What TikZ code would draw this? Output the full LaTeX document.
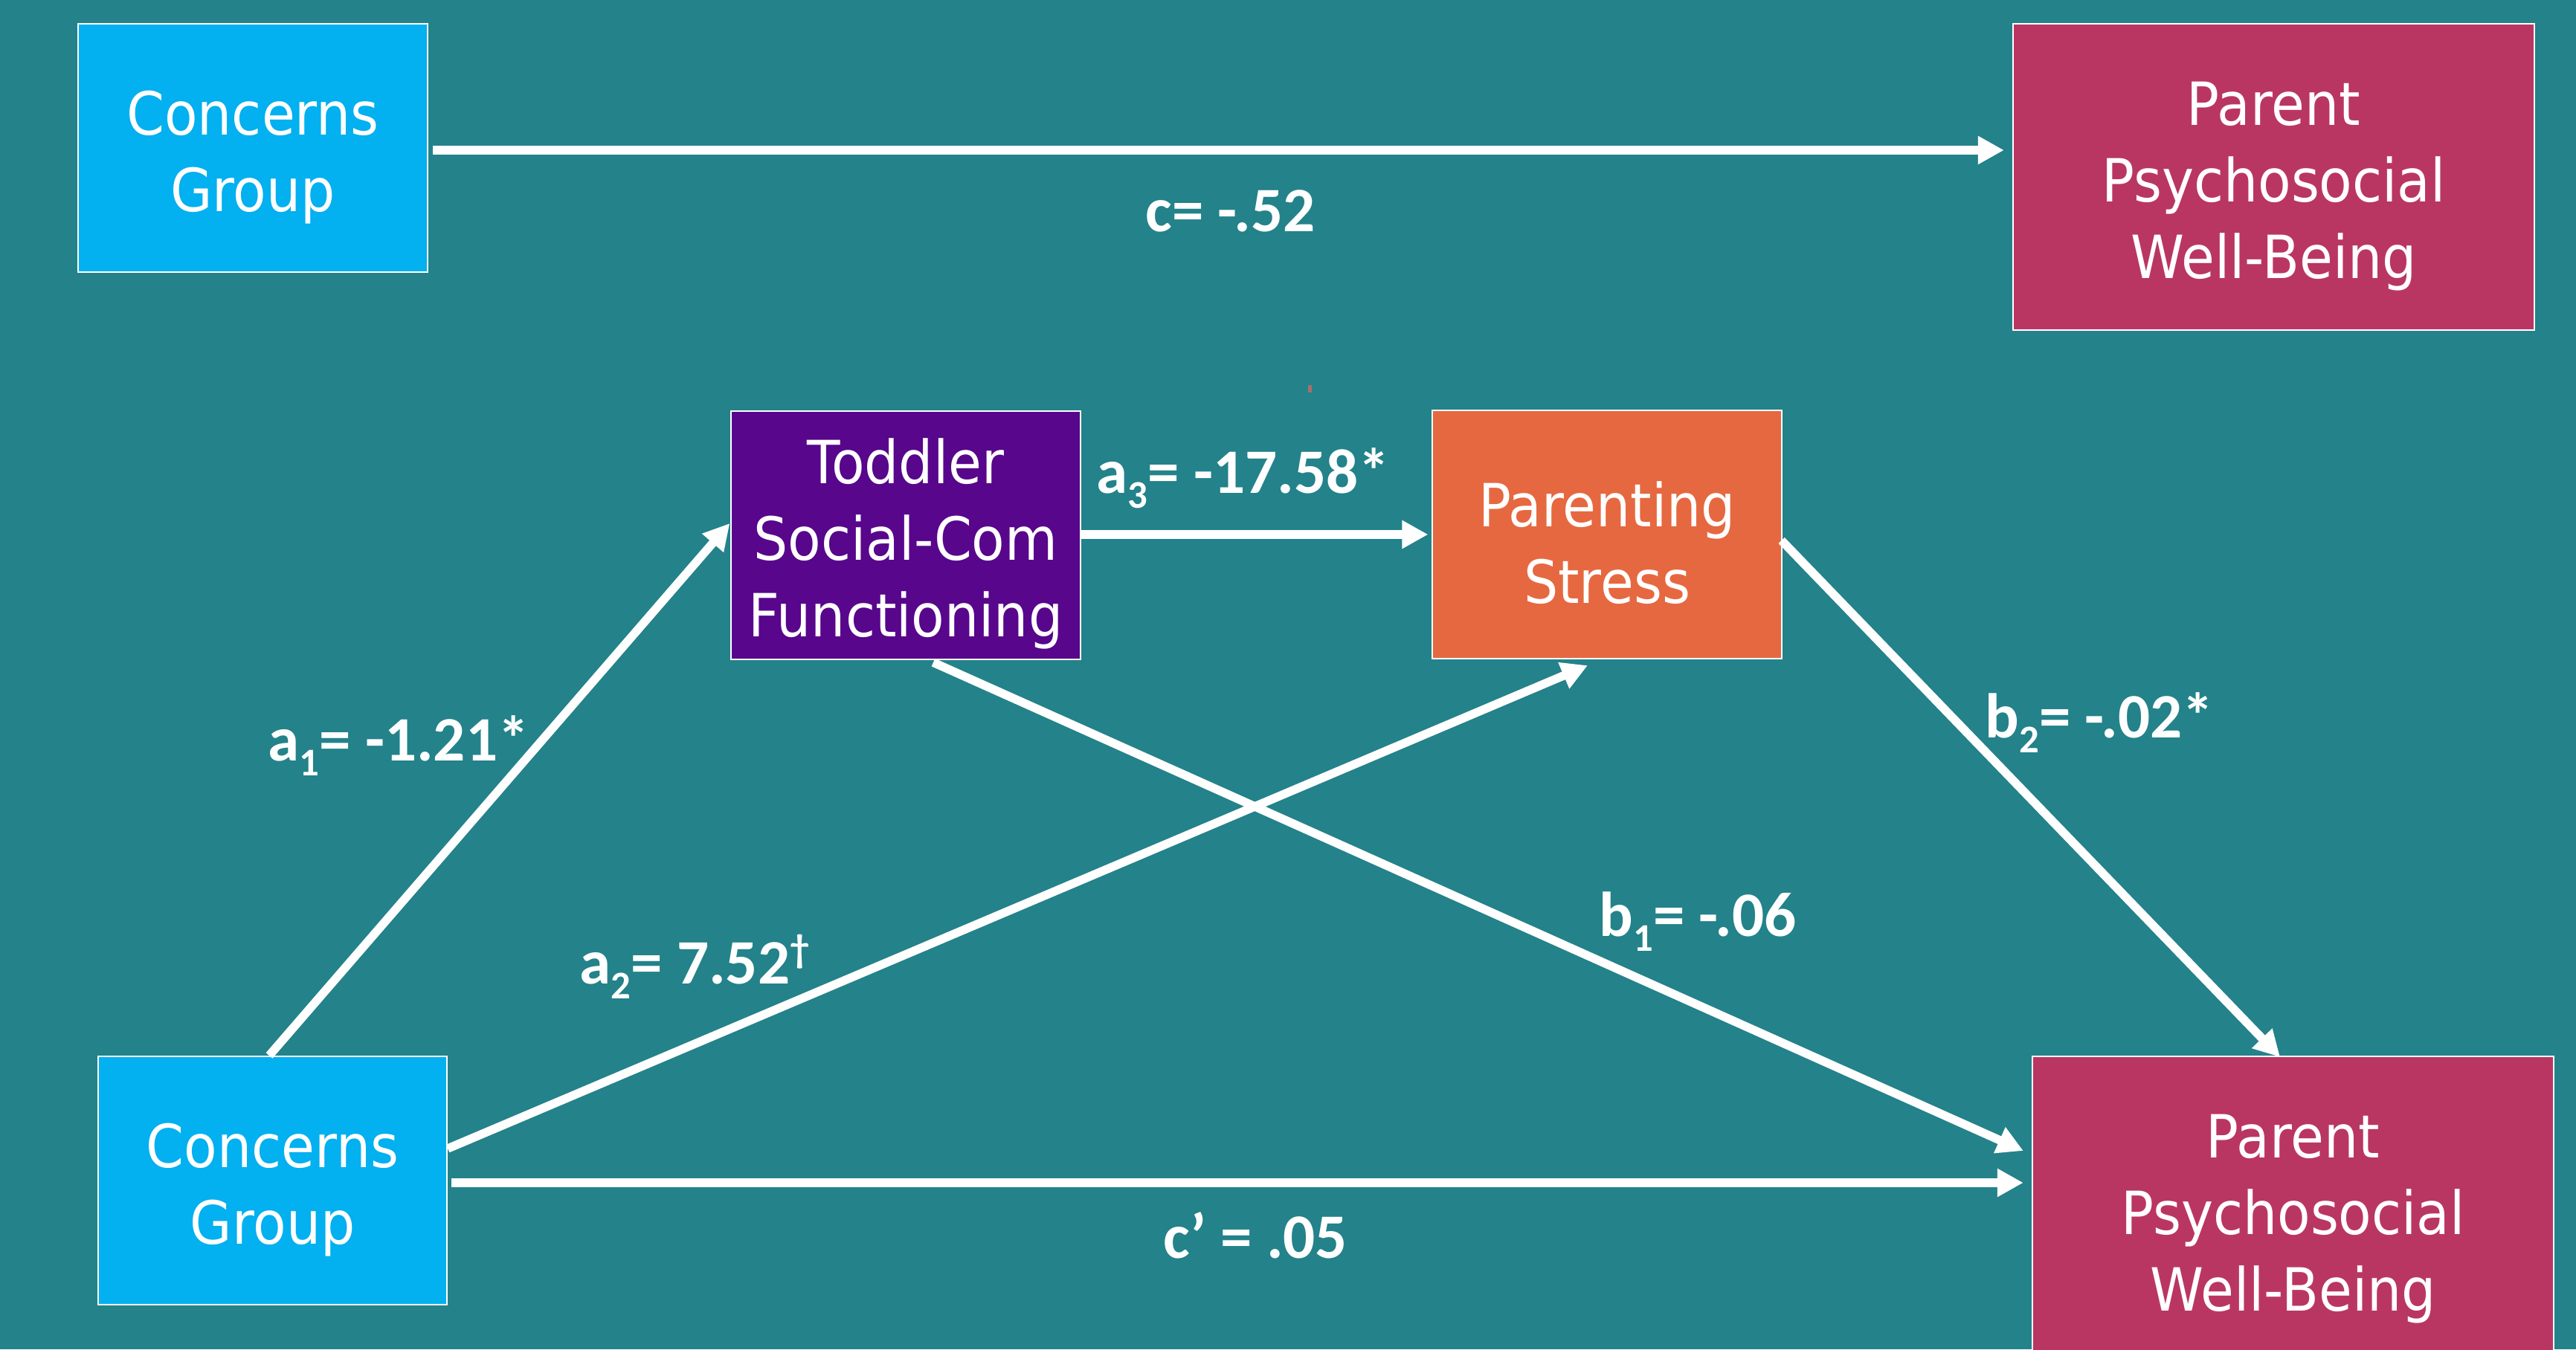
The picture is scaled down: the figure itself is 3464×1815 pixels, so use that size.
\documentclass[tikz,border=0pt]{standalone}
\usepackage{fontspec}
\usetikzlibrary{arrows.meta,calc}
\newfontfamily\boxfont{DejaVu Sans}[FakeStretch=0.91]
\newfontfamily\labfont{Carlito}
\definecolor{bgteal}{RGB}{35,130,138}
\definecolor{cgblue}{RGB}{3,176,240}
\definecolor{pwred}{RGB}{186,54,98}
\definecolor{tpurple}{RGB}{88,6,140}
\definecolor{psorange}{RGB}{230,104,64}
\definecolor{straymark}{RGB}{170,110,105}
\newcommand{\lsub}[1]{\raisebox{-0.24em}{\scalebox{0.62}{#1}}}
\newcommand{\lsup}[1]{\raisebox{0.33em}{\scalebox{0.62}{#1}}}
\newcommand{\tstrut}{\rule{0pt}{0.84cm}}
\begin{document}
\begin{tikzpicture}[x=0.01cm,y=-0.01cm,
  box/.style={draw=white,line width=0.02cm,minimum width=4.69cm,minimum height=3.34cm,inner sep=0pt,align=center,text=white,font=\boxfont\fontsize{22.76pt}{29.3pt}\selectfont},
  bigbox/.style={box,minimum width=7.01cm,minimum height=4.12cm},
  lab/.style={text=white,inner sep=0pt,anchor=base west,font=\labfont\bfseries\fontsize{24.2pt}{29pt}\selectfont},
  arr/.style={draw=white,line width=0.115cm,-{Triangle[length=0.35cm,width=0.36cm]}}]
\useasboundingbox (0,0) rectangle (3464,1815);
\clip (0,0) rectangle (3464,1815);
\fill[bgteal] (0,0) rectangle (3464,1815);
\fill[straymark] (1759,518) rectangle (1764,528);

% nodes
\node[box,fill=cgblue] (tcg) at (340,199) {\tstrut Concerns\\Group};
\node[bigbox,fill=pwred] (tpw) at (3057.5,238) {\tstrut Parent\\Psychosocial\\Well-Being};
\node[box,fill=tpurple] (tsc) at (1218,720) {\tstrut Toddler\\Social-Com\\Functioning};
\node[box,fill=psorange] (ps) at (2161,719) {\tstrut Parenting\\Stress};
\node[box,fill=cgblue] (bcg) at (366.5,1588) {\tstrut Concerns\\Group};
\node[bigbox,fill=pwred] (bpw) at (3083.5,1627) {\tstrut Parent\\Psychosocial\\Well-Being};

% connectors
\draw[arr] ($(tcg.east)+(6,3)$) -- ($(tpw.west)+(-11,-36)$);
\draw[arr] ($(bcg.north)+(-4.5,0)$) -- ($(tsc.west)+(-1,-16)$);
\draw[arr] ($(bcg.east)+(0,-43)$) -- ($(ps.south)+(-26,8)$);
\draw[arr] ($(tsc.east)+(0,-1)$) -- ($(ps.west)+(-5,0)$);
\draw[arr] ($(tsc.south)+(37,3)$) -- ($(bpw.west)+(-11,-79)$);
\draw[arr] ($(ps.east)+(-1,8)$) -- ($(bpw.north)+(-17.5,2)$);
\draw[arr] ($(bcg.east)+(5,3)$) -- ($(bpw.west)+(-11,-36)$);

% labels
\node[lab] (lc) at (1540,311) {c= -.52};
\node[lab] (la3) at (1474,663) {a\lsub{3}= -17.58*};
\node[lab] (la1) at (360,1023) {a\lsub{1}= -1.21*};
\node[lab] (la2) at (779,1323) {a\lsub{2}= 7.52\lsup{†}};
\node[lab] (lb1) at (2150,1259) {b\lsub{1}= -.06};
\node[lab] (lb2) at (2669,992) {b\lsub{2}= -.02*};
\node[lab] (lcp) at (1564,1692) {c’ = .05};
\end{tikzpicture}
\end{document}
